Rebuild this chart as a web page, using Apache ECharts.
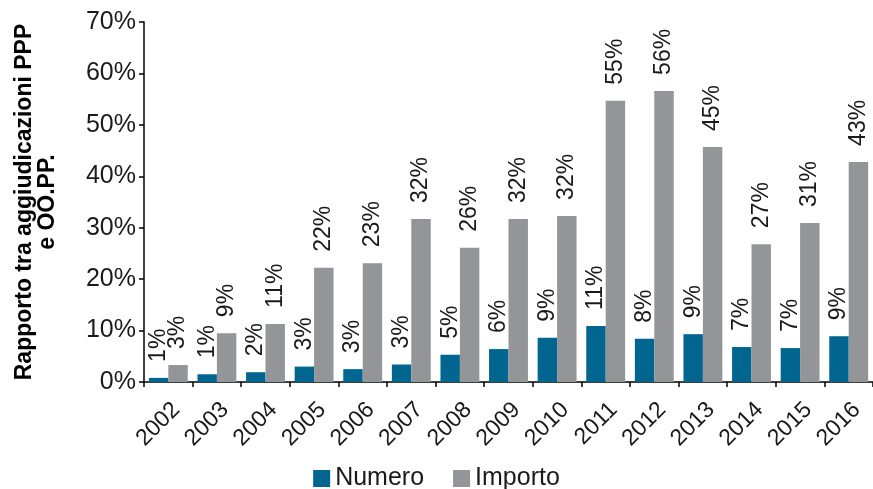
<!DOCTYPE html>
<html><head><meta charset="utf-8">
<script src="https://cdn.jsdelivr.net/npm/echarts@6/dist/echarts.min.js"></script>
<style>html,body{margin:0;padding:0;background:#fff}#c{width:873px;height:489px}</style>
</head><body><div id="c"></div>
<script>
const years = ['2002','2003','2004','2005','2006','2007','2008','2009','2010','2011','2012','2013','2014','2015','2016'];
const numero = [0.8,1.5,1.9,3.0,2.5,3.4,5.3,6.4,8.6,10.9,8.4,9.3,6.8,6.6,8.9];
const importo = [3.3,9.5,11.3,22.2,23.1,31.7,26.1,31.7,32.3,54.7,56.6,45.7,26.8,30.9,42.8];
const numeroLabels = ['1%','1%','2%','3%','3%','3%','5%','6%','9%','11%','8%','9%','7%','7%','9%'];
const importoLabels = ['3%','9%','11%','22%','23%','32%','26%','32%','32%','55%','56%','45%','27%','31%','43%'];
const yTicks = [0,10,20,30,40,50,60,70];

const font = 'Liberation Sans, Arial, sans-serif';
const chart = echarts.init(document.getElementById('c'));
function lbl(arr){
  return {show:true, position:'top', rotate:90, align:'left', verticalAlign:'middle', distance:16,
    fontFamily:font, fontSize:23, color:'#1a1a1a', formatter:p=>arr[p.dataIndex]};
}
chart.setOption({
  animation:false,
  grid:{left:144, right:-1, top:22, bottom:107, containLabel:false},
  legend:{bottom:-7, left:'center', itemWidth:17, itemHeight:17, itemGap:29, icon:'rect',
    textStyle:{fontFamily:font, fontSize:25, color:'#1a1a1a'},
    data:['Numero','Importo']},
  xAxis:{type:'category', data:years,
    axisLine:{lineStyle:{color:'#000', width:1.5}},
    axisTick:{show:true, length:5, lineStyle:{color:'#000', width:1.5}},
    axisLabel:{rotate:45, margin:16, verticalAlign:'top', fontFamily:font, fontSize:23, color:'#1a1a1a'}},
  yAxis:{type:'value', min:0, max:70, interval:10,
    name:'Rapporto tra aggiudicazioni PPP\ne OO.PP.', nameLocation:'middle', nameRotate:90, nameGap:85,
    nameTextStyle:{fontFamily:font, fontSize:23, fontWeight:'bold', color:'#000', lineHeight:23},
    splitLine:{show:false},
    axisLine:{show:true, lineStyle:{color:'#000', width:1.5}},
    axisTick:{show:true, length:5, lineStyle:{color:'#000', width:1.5}},
    axisLabel:{margin:8, fontFamily:font, fontSize:25, color:'#1a1a1a', formatter:v=>v+'%'}},
  series:[
    {name:'Numero', type:'bar', data:numero, barGap:'0%', barCategoryGap:'20%',
      itemStyle:{color:'#006690'}, label:lbl(numeroLabels)},
    {name:'Importo', type:'bar', data:importo,
      itemStyle:{color:'#939598'}, label:lbl(importoLabels)}
  ]
});
</script></body></html>
